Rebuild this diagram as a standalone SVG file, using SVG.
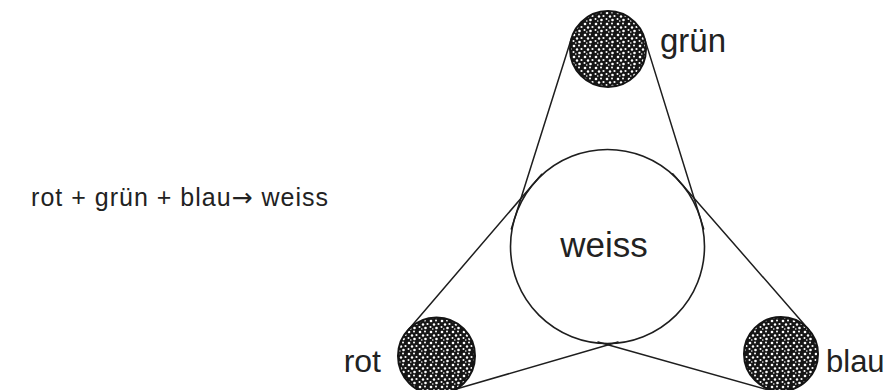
<svg xmlns="http://www.w3.org/2000/svg" width="891" height="390" viewBox="0 0 891 390">
  <style>
    .ln { stroke: #1e1e1e; stroke-width: 1.5; fill: none; stroke-linecap: round; }
    .big { stroke: #1e1e1e; stroke-width: 1.6; fill: none; }
    .dot { fill: url(#speckle); stroke: #141414; stroke-width: 2; }
    .lbl { font-family: "Liberation Sans", Arial, sans-serif; fill: #222222; }
    .arr { font-family: "Noto Sans", "DejaVu Sans", sans-serif; }
  </style>
  <defs>
    <pattern id="speckle" width="11" height="11" patternUnits="userSpaceOnUse">
      <rect width="11" height="11" fill="#161616"/>
      <circle cx="2" cy="2" r="1.3" fill="#ffffff"/>
      <circle cx="7" cy="1.5" r="1" fill="#ffffff"/>
      <circle cx="5" cy="5.5" r="1.2" fill="#ffffff"/>
      <circle cx="9.5" cy="5" r="1.1" fill="#ffffff"/>
      <circle cx="1.5" cy="8" r="1" fill="#ffffff"/>
      <circle cx="7.5" cy="9" r="1.3" fill="#ffffff"/>
      <circle cx="3.8" cy="10" r="0.8" fill="#ffffff"/>
    </pattern>
  </defs>
  <rect width="891" height="390" fill="#ffffff"/>

  <g id="connectors">
    <line class="ln" x1="571.7" y1="37.6" x2="511.3" y2="229.0"/>
    <line class="ln" x1="644.3" y1="37.6" x2="703.7" y2="229.0"/>
    <line class="ln" x1="407.3" y1="330.9" x2="541.7" y2="174.2"/>
    <line class="ln" x1="808.9" y1="329.7" x2="672.7" y2="173.7"/>
    <line class="ln" x1="446" y1="392" x2="618" y2="342"/>
    <line class="ln" x1="772" y1="391" x2="598" y2="342"/>
  </g>

  <g id="weiss">
    <circle class="big" cx="607.5" cy="246.5" r="97"/>
    <text class="lbl" x="604" y="257" font-size="35" text-anchor="middle">weiss</text>
  </g>

  <g id="gruen">
    <circle class="dot" cx="608" cy="49" r="38"/>
    <text class="lbl" x="660" y="52" font-size="33">grün</text>
  </g>

  <g id="rot">
    <circle class="dot" cx="436.5" cy="356" r="38.5"/>
    <text class="lbl" x="381" y="372" font-size="32" text-anchor="end">rot</text>
  </g>

  <g id="blau">
    <circle class="dot" cx="781" cy="354" r="37"/>
    <text class="lbl" x="826" y="372" font-size="31">blau</text>
  </g>

  <g id="formel">
    <text class="lbl" x="329" y="206" font-size="25" letter-spacing="1" text-anchor="end">rot + grün + blau<tspan class="arr">→</tspan> weiss</text>
  </g>
</svg>
